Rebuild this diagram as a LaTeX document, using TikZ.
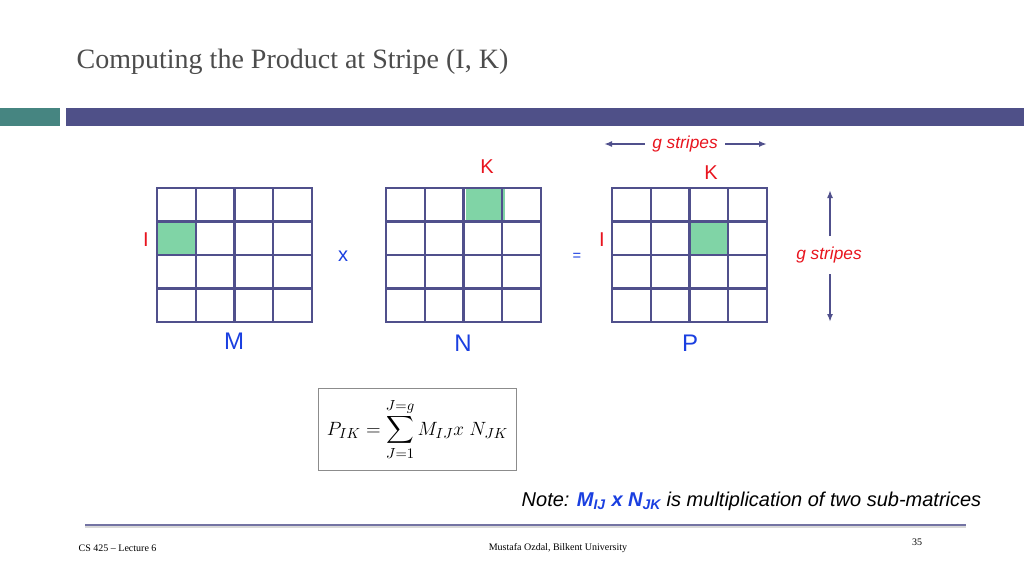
\documentclass[tikz,border=0pt]{standalone}
\usepackage{fontspec}
\usepackage{amsmath}
\setmainfont{Liberation Serif}
\newfontfamily\arialf{Liberation Sans}
\definecolor{bar}{HTML}{4F5088}
\definecolor{teal1}{HTML}{468581}
\definecolor{gridc}{HTML}{50508C}
\definecolor{fill1}{HTML}{80D4A6}
\definecolor{redt}{HTML}{E8141E}
\definecolor{bluet}{HTML}{1A3FE0}
\tikzset{lbl/.style={font=\arialf\fontsize{15}{15}\selectfont},
 gr/.style={draw=gridc,line width=1.6pt},
 arr/.style={-{Latex[length=6pt]},draw=gridc,line width=1.4pt}}
\usetikzlibrary{arrows.meta}
\begin{document}
\begin{tikzpicture}[x=0.75pt,y=-0.75pt]
\useasboundingbox (0,0) rectangle (1024,576);
\node[anchor=west,text=black!70,font=\fontsize{21}{21}\selectfont] (title) at (72,62) {Computing the Product at Stripe (I, K)};
\fill[teal1] (0,108) rectangle (60,126);
\fill[bar] (66,108) rectangle (1024,126);
% grids
\fill[fill1] (157,221.5) rectangle (195.75,255);
\fill[fill1] (466.25,188) rectangle (505,221.5);
\fill[fill1] (689.5,221.5) rectangle (728.25,255);
\foreach \x in {157,386,612}{
  \foreach \i in {1,2,3}{
    \draw[gr] ({\x+38.75*\i},188) -- ++(0,134);
    \draw[gr] (\x,{188+33.5*\i}) -- ++(155,0);}
  \draw[gr] (\x,188) rectangle ++(155,134);}
\node[lbl,text=redt] (i1) at (146,240) {I};
\node[lbl,text=redt] (k1) at (487,167) {K};
\node[lbl,text=redt] (k2) at (711,173) {K};
\node[lbl,text=redt] (i2) at (602,240) {I};
\node[lbl,text=bluet] (xx) at (343,256) {x};
\node[lbl,text=bluet,font=\arialf\fontsize{11}{11}\selectfont] (eq) at (577,257) {=};
\node[lbl,text=bluet,font=\arialf\fontsize{18}{18}\selectfont] (m) at (234,341) {M};
\node[lbl,text=bluet,font=\arialf\fontsize{18}{18}\selectfont] (n) at (463,343) {N};
\node[lbl,text=bluet,font=\arialf\fontsize{18}{18}\selectfont] (p) at (690,343) {P};
\node[lbl,text=redt,font=\arialf\itshape\fontsize{13}{13}\selectfont] (gs1) at (685,144) {g stripes};
\coordinate (a1) at (604,144); \coordinate (a2) at (767,144);
\draw[arr] (gs1.west) ++(-3,0) -- (a1);
\draw[arr] (gs1.east) ++(3,0) -- (a2);
\node[lbl,text=redt,font=\arialf\itshape\fontsize{13}{13}\selectfont] (gs2) at (829,255) {g stripes};
\coordinate (b1) at (830,190); \coordinate (b2) at (830,322);
\coordinate (b3) at (830,236); \coordinate (b4) at (830,274);
\draw[arr] (b3) -- (b1);
\draw[arr] (b4) -- (b2);
% formula
\node[draw=black!45,line width=0.6pt,minimum width=149pt,minimum height=62pt] (f) at (417.5,429.5) {};
\node[font=\fontsize{15}{15}\selectfont] (ft) at (f.center) {$P_{IK} = \displaystyle\sum_{J=1}^{J=g} M_{IJ}x\;N_{JK}$};
\node[anchor=east,font=\arialf\itshape\fontsize{15}{15}\selectfont] (note) at (986,501) {Note: {\color{bluet}\bfseries M\textsubscript{IJ} x N\textsubscript{JK}} is multiplication of two sub-matrices};
\coordinate (l1) at (85,525); \coordinate (l2) at (966,525);
\draw[draw=gridc!80,line width=1pt] (l1) -- (l2);
\draw[draw=black!15,line width=1pt] (85,527) -- (966,527);
\node[anchor=west,font=\fontsize{7.5}{8}\selectfont] (ft1) at (74,548) {CS 425 -- Lecture 6};
\node[font=\fontsize{7.5}{8}\selectfont] (ft2) at (558,548) {Mustafa Ozdal, Bilkent University};
\node[font=\fontsize{7.5}{8}\selectfont] (ft3) at (917,542) {35};
\end{tikzpicture}
\end{document}
